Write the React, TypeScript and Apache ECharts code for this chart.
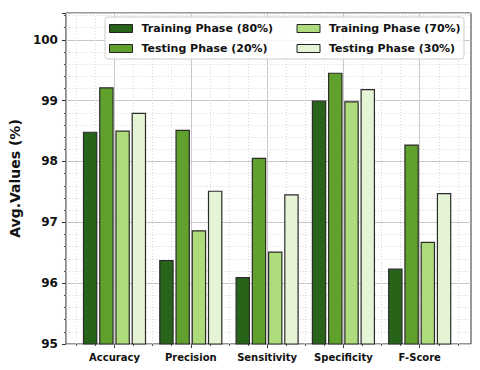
import React, { useEffect, useRef } from "react";
import * as echarts from "echarts";

const categories = ["Accuracy", "Precision", "Sensitivity", "Specificity", "F-Score"];
const seriesNames = [
  "Training Phase (80%)",
  "Testing Phase (20%)",
  "Training Phase (70%)",
  "Testing Phase (30%)",
];
const training80 = [98.49, 96.38, 96.1, 99.0, 96.24];
const testing20 = [99.22, 98.52, 98.06, 99.46, 98.28];
const training70 = [98.51, 96.87, 96.52, 98.99, 96.68];
const testing30 = [98.8, 97.52, 97.46, 99.19, 97.48];
const seriesValues = [training80, testing20, training70, testing30];
const seriesColors = ["#276419", "#60a12e", "#aedb7c", "#e6f4d6"];
const yTicks = [95, 96, 97, 98, 99, 100];

const FONT = "DejaVu Sans";

export default function App() {
  const ref = useRef<HTMLDivElement>(null);
  useEffect(() => {
    if (!ref.current) return;
    const chart = echarts.init(ref.current, undefined, { renderer: "svg" });
    const yMin = yTicks[0];
    const yMax = 100.44;
    const gridTop = 13;
    const gridBottom = 26;
    const legendData = [
      { name: seriesNames[0], textStyle: { width: 146 } },
      { name: seriesNames[2], textStyle: { width: 132 } },
      { name: seriesNames[1], textStyle: { width: 146 } },
      { name: seriesNames[3], textStyle: { width: 132 } },
    ];
    const option: any = {
      animation: false,
      grid: [
        {
          left: 64,
          right: 9,
          top: gridTop,
          bottom: gridBottom,
          show: true,
          borderColor: "#333",
          borderWidth: 1,
          backgroundColor: "transparent",
        },
        {
          left: 76.35,
          right: 22.15,
          top: gridTop,
          bottom: gridBottom,
        },
        {
          left: 114.5,
          right: 60.3,
          top: gridTop,
          bottom: gridBottom,
        },
      ],
      legend: {
        data: legendData,
        left: 105,
        top: 17,
        width: 355,
        padding: [6, 3, 5, 4],
        itemGap: 9,
        itemWidth: 23,
        itemHeight: 8,
        icon: "rect",
        backgroundColor: "rgba(255,255,255,0.85)",
        borderColor: "#cccccc",
        borderWidth: 1,
        borderRadius: 3,
        itemStyle: { borderColor: "#222", borderWidth: 1 },
        textStyle: {
          fontFamily: FONT,
          fontWeight: "bold",
          fontSize: 11,
          color: "#111",
          lineHeight: 9,
          padding: [0, 0, 0, 4],
        },
      },
      xAxis: [
        {
          gridIndex: 0,
          type: "value",
          min: 0,
          max: 1,
          show: false,
        },
        {
          gridIndex: 1,
          type: "category",
          data: categories,
          position: "bottom",
          axisLine: { show: false },
          axisTick: { show: true, alignWithLabel: true, length: 4, lineStyle: { color: "#333" } },
          axisLabel: {
            interval: 0,
            margin: 8,
            fontFamily: FONT,
            fontWeight: "bold",
            fontSize: 10,
            color: "#111",
          },
          splitLine: { show: false },
        },
        {
          gridIndex: 1,
          type: "value",
          min: -0.5,
          max: 4.5,
          interval: 0.25,
          position: "bottom",
          axisLine: { show: false },
          axisTick: { show: true, length: 2, lineStyle: { color: "#555" } },
          axisLabel: { show: false },
          splitLine: { show: true, lineStyle: { color: "#d9d9d9", type: [1, 2], width: 1 } },
        },
        {
          gridIndex: 2,
          type: "value",
          min: 0,
          max: 4,
          interval: 1,
          position: "bottom",
          axisLine: { show: false },
          axisTick: { show: false },
          axisLabel: { show: false },
          splitLine: { show: true, lineStyle: { color: "#c8c8c8", type: "solid", width: 1 } },
        },
      ],
      yAxis: [
        {
          gridIndex: 0,
          type: "value",
          min: yMin,
          max: yMax,
          interval: 1,
          position: "left",
          name: "Avg.Values (%)",
          nameLocation: "middle",
          nameGap: 40,
          nameTextStyle: { fontFamily: FONT, fontWeight: "bold", fontSize: 14, color: "#111" },
          axisLine: { show: false },
          axisTick: { show: true, length: 4, lineStyle: { color: "#333" } },
          minorTick: { show: true, splitNumber: 5, length: 2, lineStyle: { color: "#555" } },
          axisLabel: {
            margin: 8,
            fontFamily: FONT,
            fontWeight: "bold",
            fontSize: 12,
            color: "#111",
            showMaxLabel: false,
            formatter: (v: number) => (yTicks.includes(v) ? String(v) : ""),
          },
          splitLine: { show: true, lineStyle: { color: "#c8c8c8", width: 1 } },
          minorSplitLine: { show: true, lineStyle: { color: "#d9d9d9", type: [1, 2], width: 1 } },
        },
        {
          gridIndex: 1,
          type: "value",
          min: yMin,
          max: yMax,
          show: false,
        },
        {
          gridIndex: 2,
          type: "value",
          min: yMin,
          max: yMax,
          show: false,
        },
      ],
      series: seriesNames.map((name, i) => ({
        name,
        type: "bar",
        xAxisIndex: 1,
        yAxisIndex: 1,
        data: seriesValues[i],
        barWidth: 14.5,
        barGap: "12%",
        itemStyle: { color: seriesColors[i], borderColor: "#2b2b2b", borderWidth: 1.2 },
        emphasis: { disabled: true },
      })),
    };
    chart.setOption(option);
    return () => chart.dispose();
  }, []);
  return (
    <div
      ref={ref}
      style={{ position: "fixed", left: 0, top: 0, width: 480, height: 370, background: "#fff" }}
    />
  );
}
